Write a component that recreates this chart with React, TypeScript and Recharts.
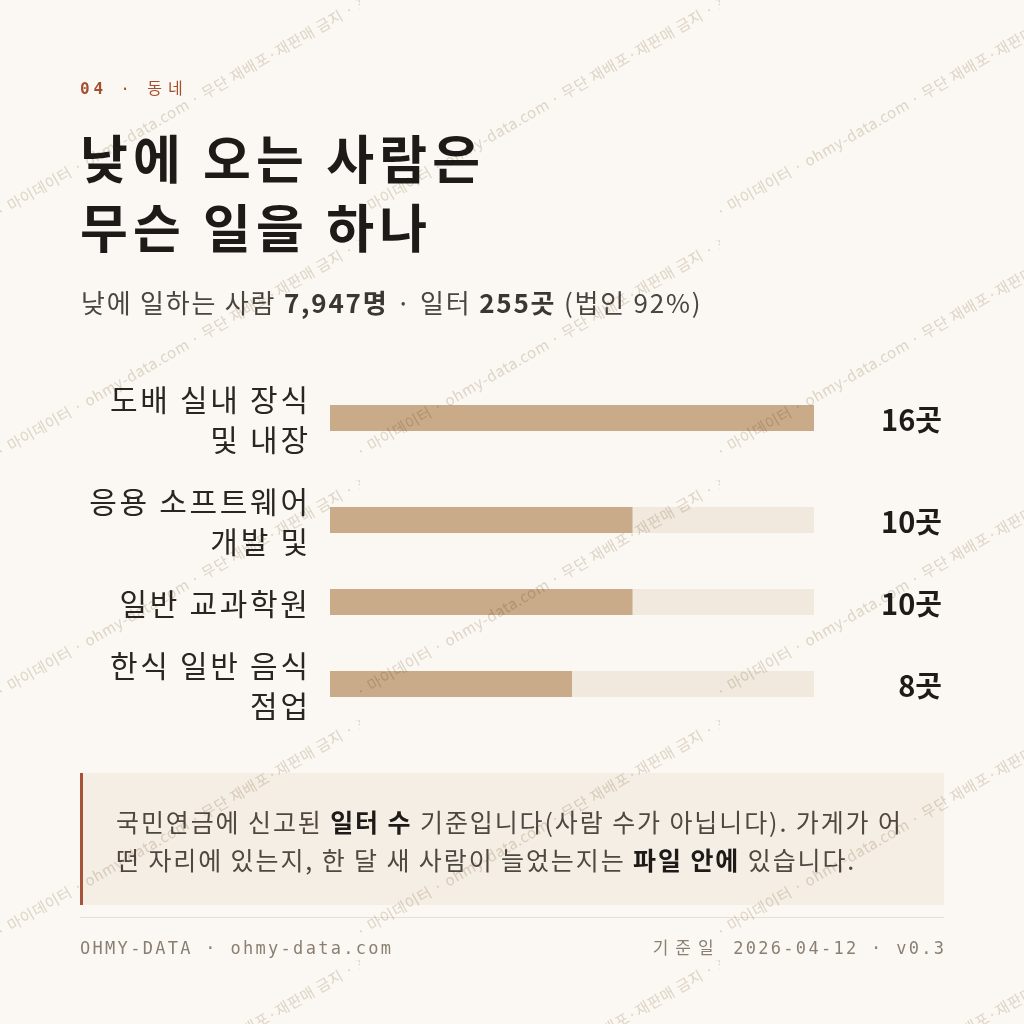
import { BarChart, Bar, XAxis, YAxis, LabelList } from 'recharts'

// 업종별 일터 수 (낮 시간대)
const categoryLines = [
  ['도배 실내 장식', '및 내장'],
  ['응용 소프트웨어', '개발 및'],
  ['일반 교과학원'],
  ['한식 일반 음식', '점업'],
]
const categories = categoryLines.map((l) => l.join(' '))
const workplaces = [16, 10, 10, 8]
const unit = '곳'
const maxValue = Math.max(...workplaces)

const WATERMARK = '· 마이데이터 · ohmy-data.com · 무단 재배포·재판매 금지 · 표본 데이터'

const FONT = '"Noto Sans CJK KR", "Noto Sans", sans-serif'
const MONO = '"DejaVu Sans Mono", "Liberation Mono", "Noto Sans CJK KR", monospace'
const CHART_W = 864
const LINE_H = 40
const AXIS_W = 250
const RIGHT_PAD = 130
const LABEL_LS = 2.7

function CategoryTick(props: any) {
  const { x, y, payload } = props
  const idx = categories.indexOf(payload.value)
  const lines = idx >= 0 ? categoryLines[idx] : [payload.value]
  const top = y - ((lines.length - 1) * LINE_H) / 2
  return (
    <g>
      {lines.map((line: string, i: number) => (
        <text
          key={i} x={x + LABEL_LS} y={top + i * LINE_H} textAnchor="end" dominantBaseline="central"
          fontSize={30} fill="#2a2521" fontFamily={FONT} letterSpacing={LABEL_LS}
        >
          {line}
        </text>
      ))}
    </g>
  )
}

function ValueLabel(props: any) {
  const vb = props.viewBox || props
  return (
    <text
      x={CHART_W - 2} y={vb.y + vb.height / 2} textAnchor="end" dominantBaseline="central"
      fontSize={29} fontWeight={700} fill="#1f1b18" fontFamily={FONT}
    >
      {props.value}{unit}
    </text>
  )
}

function Row({ index }: { index: number }) {
  const data = [{ name: categories[index], value: workplaces[index] }]
  const h = categoryLines[index].length * LINE_H
  return (
    <BarChart
      width={CHART_W} height={h} data={data} layout="vertical" barSize={26}
      margin={{ top: 0, right: RIGHT_PAD, bottom: 0, left: 0 }}
    >
      <XAxis type="number" domain={[0, maxValue]} hide />
      <YAxis
        type="category" dataKey="name" width={AXIS_W} axisLine={false} tickLine={false}
        tickSize={0} tickMargin={22} tick={<CategoryTick />} interval={0}
      />
      <Bar dataKey="value" fill="#c9ab89" background={{ fill: '#f1e9dd' }} isAnimationActive={false}>
        <LabelList dataKey="value" content={<ValueLabel />} />
      </Bar>
    </BarChart>
  )
}

export default function App() {
  return (
    <div
      style={{
        position: 'absolute', left: 0, top: 0, width: 1024, height: 1024,
        background: '#fbf8f3', fontFamily: FONT, overflow: 'hidden',
      }}
    >
      <div style={{ position: 'absolute', left: 80, top: 79, fontFamily: MONO, fontSize: 16, lineHeight: '20px', letterSpacing: 3.8, color: '#a4502f' }}>
        <b>04</b> · <span style={{ letterSpacing: 6 }}>동네</span>
      </div>

      <div style={{ position: 'absolute', left: 80, top: 122, fontSize: 52, lineHeight: '69px', fontWeight: 700, letterSpacing: 5.2, color: '#1d1a17' }}>
        낮에 오는 사람은<br />무슨 일을 하나
      </div>

      <div style={{ position: 'absolute', left: 81, top: 284, fontSize: 26, lineHeight: '36px', letterSpacing: 1.8, color: '#4a453f' }}>
        낮에 일하는 사람 <b style={{ color: '#3b3631' }}>7,947명</b> · 일터 <b style={{ color: '#3b3631' }}>255곳</b> (법인 92%)
      </div>

      <div style={{ position: 'absolute', left: 80, top: 378, display: 'flex', flexDirection: 'column', gap: 22 }}>
        {categories.map((_, i) => (
          <Row key={i} index={i} />
        ))}
      </div>

      <div
        style={{
          position: 'absolute', left: 80, top: 773, width: 864, height: 132, boxSizing: 'border-box',
          background: '#f5eee5', borderLeft: '3px solid #a6533a', padding: '29px 0 0 33px',
          fontSize: 25, lineHeight: '38px', letterSpacing: 1.9, color: '#4f4841', whiteSpace: 'nowrap',
        }}
      >
        국민연금에 신고된 <b style={{ color: '#1d1a17' }}>일터 수</b> 기준입니다(사람 수가 아닙니다). 가게가 어<br />
        떤 자리에 있는지, 한 달 새 사람이 늘었는지는 <b style={{ color: '#1d1a17' }}>파일 안에</b> 있습니다.
      </div>

      <div style={{ position: 'absolute', left: 80, top: 917, width: 864, height: 1, background: '#e6dfd3' }} />

      <div style={{ position: 'absolute', left: 80, top: 936, fontFamily: MONO, fontSize: 17, lineHeight: '24px', letterSpacing: 2.3, color: '#8a7f72' }}>
        OHMY-DATA · ohmy-data.com
      </div>
      <div style={{ position: 'absolute', right: 80, top: 936, fontFamily: MONO, fontSize: 17, lineHeight: '24px', letterSpacing: 2.3, color: '#8a7f72', marginRight: -2.3 }}>
        <span style={{ letterSpacing: 7 }}>기준일</span> 2026-04-12 · v0.3
      </div>

      <svg width={1024} height={1024} style={{ position: 'absolute', left: 0, top: 0, pointerEvents: 'none', mixBlendMode: 'multiply' }}>
        <defs>
          <pattern id="wm" width={360} height={240} patternUnits="userSpaceOnUse">
            <text x={0} y={218} transform="rotate(-30 0 218)" fontSize={15} letterSpacing={0.6} fill="#e2dbd0" fontFamily={FONT}>
              {WATERMARK}
            </text>
          </pattern>
        </defs>
        <rect width={1024} height={1024} fill="url(#wm)" />
      </svg>
    </div>
  )
}
